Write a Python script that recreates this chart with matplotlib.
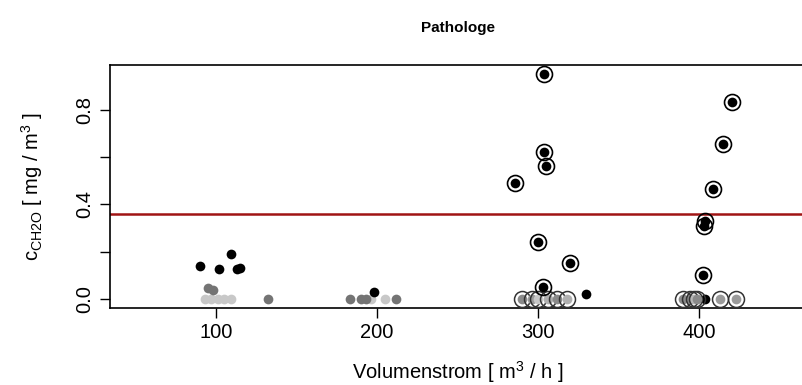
import matplotlib
matplotlib.use("Agg")
import matplotlib.pyplot as plt

plt.rcParams['font.family'] = ['Liberation Sans', 'DejaVu Sans']
plt.rcParams['mathtext.fontset'] = 'custom'
plt.rcParams['mathtext.rm'] = 'Liberation Sans'
plt.rcParams['mathtext.it'] = 'Liberation Sans'

# ---- data ----
title = "Pathologe"
threshold = 0.36

black_x = [90, 102, 109, 113, 115, 198, 330, 404]
black_y = [0.14, 0.125, 0.19, 0.125, 0.13, 0.03, 0.02, 0.0]

dgrey_x = [95, 98, 132, 183, 190, 193, 212]
dgrey_y = [0.045, 0.04, 0.0, 0.0, 0.0, 0.0, 0.0]

lgrey_x = [93, 97, 101, 105, 109, 196, 205]
lgrey_y = [0.0, 0.0, 0.0, 0.0, 0.0, 0.0, 0.0]

ring_black_x = [304, 304, 305, 286, 300, 320, 303, 420.5, 415, 409, 404, 403.5, 402.5]
ring_black_y = [0.95, 0.62, 0.56, 0.49, 0.24, 0.15, 0.05, 0.83, 0.655, 0.465, 0.33, 0.31, 0.1]

ring_grey_x = [290, 296, 300, 306, 312, 318, 390, 394.5, 397, 399, 413, 423]
ring_grey_y = [0.0] * 12
ring_grey_c = ['#8a8a8a', '#9a9a9a', '#c8c8c8', '#b0b0b0', '#8a8a8a', '#b0b0b0',
               '#8a8a8a', '#8a8a8a', '#b8b8b8', '#8a8a8a', '#9a9a9a', '#9a9a9a']

xticks = [100, 200, 300, 400]
yticks = [0.0, 0.2, 0.4, 0.6, 0.8]
yticklabels = ['0.0', '', '0.4', '', '0.8']

# ---- figure ----
W, H = 802, 385
fig = plt.figure(figsize=(W / 100, H / 100), dpi=100)
ax = fig.add_axes([110 / W, (H - 308) / H, (805 - 110) / W, (308 - 65) / H])

ax.axhline(threshold, color='#a01414', lw=1.8, zorder=1)

ax.plot(lgrey_x, lgrey_y, 'o', ms=7, color='#c8c8c8', mec='none', zorder=2)
ax.plot(dgrey_x, dgrey_y, 'o', ms=7, color='#747474', mec='none', zorder=3)
ax.plot(black_x, black_y, 'o', ms=7, color='black', mec='none', zorder=4)

for x, y, c in zip(ring_grey_x, ring_grey_y, ring_grey_c):
    ax.plot([x], [y], 'o', ms=7, color=c, mec='none', zorder=5)
    ax.plot([x], [y], 'o', ms=11.5, mfc='none', mec='#333333', mew=1.1, zorder=5)

ax.plot(ring_black_x, ring_black_y, 'o', ms=7, color='black', mec='none', zorder=6)
ax.plot(ring_black_x, ring_black_y, 'o', ms=11.5, mfc='none', mec='black', mew=1.2, zorder=6)

ax.set_xlim(34, 466)
ax.set_ylim(-0.038, 0.988)
ax.set_xticks(xticks)
ax.set_xticklabels([str(v) for v in xticks])
ax.set_yticks(yticks)
ax.set_yticklabels(yticklabels, rotation=90, va='center')
ax.tick_params(direction='out', length=7, width=1, labelsize=14.5, pad=4)

for s in ax.spines.values():
    s.set_linewidth(1.2)

ax.set_title(title, fontsize=11, fontweight='bold', pad=24)
ax.set_xlabel(r'Volumenstrom [ m$^{3}$ / h ]', fontsize=14.5, labelpad=12)
ax.set_ylabel(r'c$_{\mathrm{CH2O}}$ [ mg / m$^{3}$ ]', fontsize=14.5, labelpad=22)

fig.savefig('out.png', dpi=100)
